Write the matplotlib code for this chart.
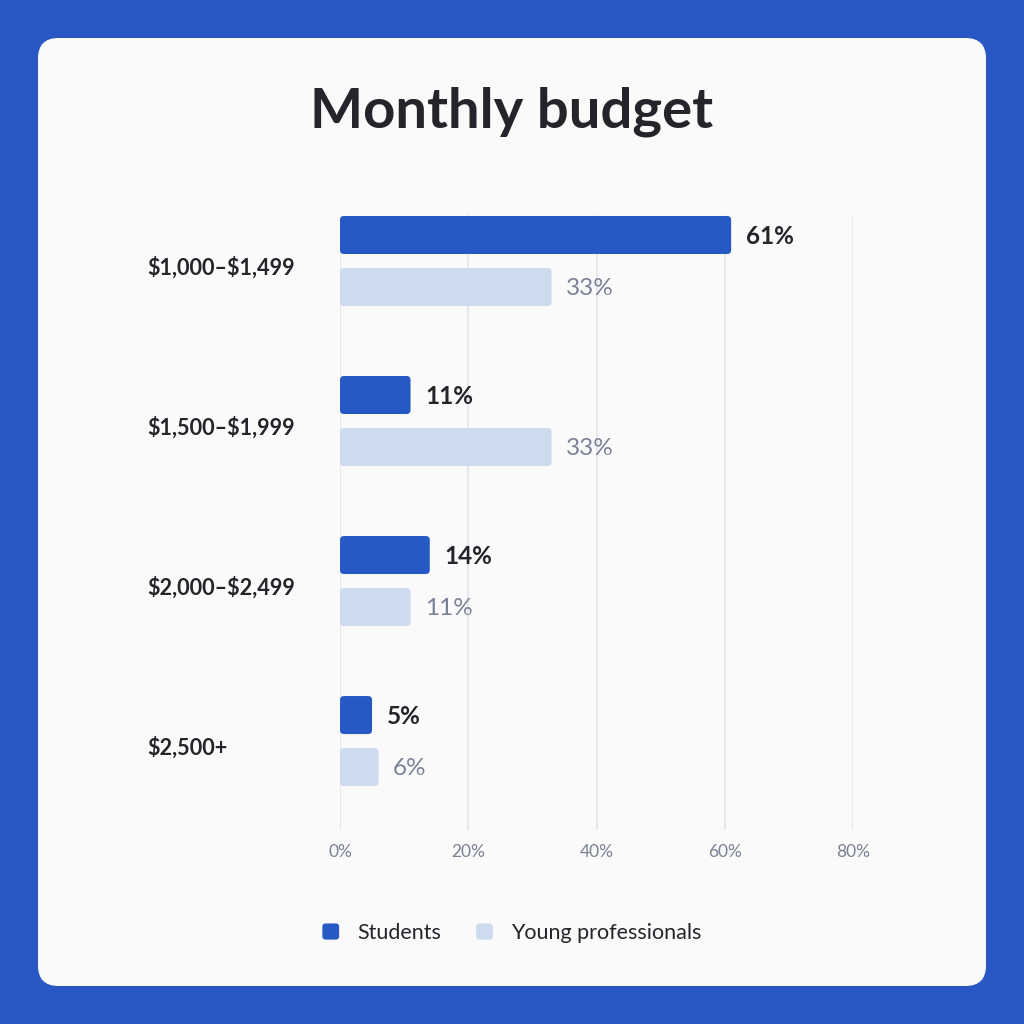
import matplotlib
matplotlib.use("Agg")
import matplotlib.pyplot as plt
from matplotlib.patches import FancyBboxPatch, Rectangle
from matplotlib.legend_handler import HandlerPatch
import numpy as np

plt.rcParams['font.family'] = ['Lato', 'DejaVu Sans']
plt.rcParams['text.parse_math'] = False

categories = ["$1,000–$1,499", "$1,500–$1,999", "$2,000–$2,499", "$2,500+"]
students = [61, 11, 14, 5]
young_prof = [33, 33, 11, 6]
series_names = ["Students", "Young professionals"]
xticks = [0, 20, 40, 60, 80]
xtick_labels = ["0%", "20%", "40%", "60%", "80%"]

BG = "#2958c4"
CARD = "#fafafa"
DARK = "#2759c4"
LIGHT = "#cedbee"
TXT = "#23252a"
GRAY = "#7b8196"
GRID = "#e8e8ec"

fig = plt.figure(figsize=(10.24, 10.24), dpi=100)
fig.patch.set_facecolor(BG)

card = FancyBboxPatch((38/1024, 38/1024), (986-38)/1024, (986-38)/1024,
                      boxstyle="round,pad=0,rounding_size=0.02",
                      transform=fig.transFigure, facecolor=CARD, edgecolor="none", zorder=-10)
fig.patches.append(card)

fig.text(0.5, 1 - 112/1024, "Monthly budget", ha="center", va="center",
         fontsize=40.5, fontweight="bold", color=TXT)

ax = fig.add_axes([340/1024, 1 - 830/1024, (853-340)/1024, (830-215)/1024])
ax.set_zorder(5)
ax.set_facecolor("none")
ax.set_xlim(0, 80)
ax.set_ylim(3.556, -0.2875)

y = np.arange(len(categories))
off = 0.1625
h = 0.2375
b1 = ax.barh(y - off, students, height=h, color=DARK)
b2 = ax.barh(y + off, young_prof, height=h, color=LIGHT)

for bars in (b1, b2):
    for bar in bars:
        x0, y0 = bar.get_x(), bar.get_y()
        w, hh = bar.get_width(), bar.get_height()
        p = FancyBboxPatch((x0, y0), w, hh, boxstyle="round,pad=0,rounding_size=0.62",
                           mutation_aspect=0.04, facecolor=bar.get_facecolor(),
                           edgecolor="none", zorder=3)
        ax.add_patch(p)
        bar.set_visible(False)

for i, v in enumerate(students):
    ax.text(v + 2.3, i - off + 0.012, f"{v}%", va="center", ha="left", fontsize=17.5,
            fontweight="bold", color=TXT, zorder=4)
for i, v in enumerate(young_prof):
    ax.text(v + 2.3, i + off + 0.012, f"{v}%", va="center", ha="left", fontsize=17.5,
            color=GRAY, zorder=4)

ax.set_xticks(xticks)
ax.set_xticklabels(xtick_labels, fontsize=12.5, color=GRAY)
ax.set_yticks(y + 0.03)
ax.set_yticklabels(categories, fontsize=15.6, fontweight="bold", color=TXT, ha="left")
ax.tick_params(axis="y", length=0, pad=139)
ax.tick_params(axis="x", length=0, pad=10)
ax.grid(axis="x", color=GRID, linewidth=1.5, zorder=0)
ax.set_axisbelow(True)
for s in ax.spines.values():
    s.set_visible(False)


def rounded_handle(legend, orig_handle, xdescent, ydescent, width, height, fontsize):
    return FancyBboxPatch((-xdescent, -ydescent), width, height,
                          boxstyle="round,pad=0,rounding_size=2.5")


handles = [Rectangle((0, 0), 1, 1, facecolor=DARK), Rectangle((0, 0), 1, 1, facecolor=LIGHT)]
fig.legend(handles, series_names, loc="center", bbox_to_anchor=(0.5, 1 - 933/1024),
           ncol=2, frameon=False, fontsize=15.5, handlelength=0.78, handleheight=0.78,
           columnspacing=1.62, handletextpad=0.85, labelcolor=TXT,
           handler_map={Rectangle: HandlerPatch(patch_func=rounded_handle)})

fig.savefig("out.png", dpi=100, facecolor=BG)
